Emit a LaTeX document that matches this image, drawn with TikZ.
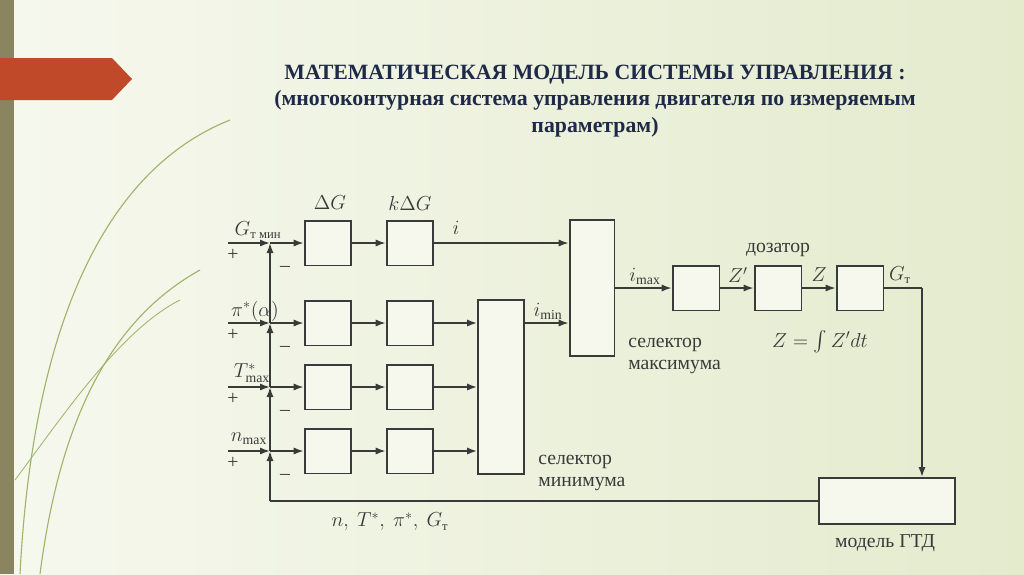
\documentclass[tikz,border=0pt]{standalone}
\usepackage{amsmath}
\usepackage{fontspec}
\setmainfont{Liberation Serif}
\usetikzlibrary{arrows.meta,positioning}
\definecolor{bgA}{HTML}{F6F8EE}
\definecolor{bgB}{HTML}{E4EBCD}
\definecolor{ink}{HTML}{3A3A3A}
\definecolor{titleblue}{HTML}{1F2A48}
\definecolor{tabred}{HTML}{C0492A}
\definecolor{barbrown}{HTML}{8A8460}
\definecolor{leaf}{HTML}{9FB46A}
\newcommand{\cyrsub}[1]{\mbox{\upshape\fontsize{9}{9}\selectfont #1}}
\tikzset{
  blk/.style={draw=ink,line width=1.3pt,fill=bgA,minimum width=1.17cm,minimum height=1.12cm,inner sep=0pt},
  sig/.style={draw=ink,line width=1.2pt,-{Latex[length=2.5mm,width=1.8mm]}},
  ln/.style={draw=ink,line width=1.2pt},
  lbl/.style={font=\itshape\fontsize{14}{14}\selectfont,text=ink,inner sep=1pt},
  txt/.style={font=\fontsize{14}{16}\selectfont,text=ink,align=left,inner sep=0pt}
}
\begin{document}
\begin{tikzpicture}[x=0.025cm,y=-0.025cm]
\useasboundingbox (0,0) rectangle (1024,574);
% background
\shade[left color=bgA,right color=bgB] (0,0) rectangle (1024,574);
\fill[barbrown] (0,0) rectangle (14,574);
\fill[tabred] (0,58) -- (112,58) -- (132,79) -- (112,100) -- (0,100) -- cycle;
\draw[leaf,line width=0.8pt] (20,574) .. controls (30,380) and (80,180) .. (230,120);
\draw[leaf,line width=0.8pt] (40,574) .. controls (60,420) and (110,320) .. (200,270);
\draw[leaf,line width=0.6pt] (15,480) .. controls (60,420) and (120,330) .. (180,300);
% title
\node[font=\bfseries\fontsize{15.5}{19}\selectfont,text=titleblue,align=center] (title) at (595,101)
  {МАТЕМАТИЧЕСКАЯ МОДЕЛЬ СИСТЕМЫ УПРАВЛЕНИЯ :\\
   (многоконтурная система управления двигателя по измеряемым\\ параметрам)};

% blocks
\node[blk] (a1) at (328,243) {};
\node[blk] (b1) at (410,243) {};
\node[blk] (a2) at (328,323) {};
\node[blk] (b2) at (410,323) {};
\node[blk] (a3) at (328,387) {};
\node[blk] (b3) at (410,387) {};
\node[blk] (a4) at (328,451) {};
\node[blk] (b4) at (410,451) {};
\node[blk,minimum width=1.15cm,minimum height=4.35cm] (smin) at (501,387) {};
\node[blk,minimum width=1.12cm,minimum height=3.4cm] (smax) at (592,288) {};
\node[blk] (c1) at (696,288) {};
\node[blk] (c2) at (778,288) {};
\node[blk] (c3) at (860,288) {};
\node[blk,minimum width=3.4cm,minimum height=1.15cm] (gtd) at (887,501) {};

% junctions
\coordinate (j1) at (270,243);
\coordinate (j2) at (270,323);
\coordinate (j3) at (270,387);
\coordinate (j4) at (270,451);
\coordinate (fb) at (270,501);
\coordinate (go) at (922,288);

% inputs
\foreach \r in {1,2,3,4}{
  \draw[sig] (228,0 |- j\r) -- (j\r);
  \draw[sig] (j\r) -- (a\r);
  \draw[sig] (a\r) -- (b\r);
}
\draw[sig] (b1) -- (smax.west |- b1);
\draw[sig] (b2) -- (smin.west |- b2);
\draw[sig] (b3) -- (smin.west |- b3);
\draw[sig] (b4) -- (smin.west |- b4);
\draw[sig] (smin.east |- b2) -- (smax.west |- b2);
\draw[sig] (smax) -- (c1);
\draw[sig] (c1) -- (c2);
\draw[sig] (c2) -- (c3);
\draw[ln] (c3) -- (go);
\draw[sig] (go) -- (go |- gtd.north);
% feedback
\draw[ln] (gtd.west) -- (fb);
\draw[sig] (fb) -- (j4);
\draw[sig] (j4) -- (j3);
\draw[sig] (j3) -- (j2);
\draw[sig] (j2) -- (j1);

% labels
\node[lbl] (lg1) at (258,230) {$G_{\cyrsub{т мин}}$};
\node[lbl] (lg2) at (255,311) {$\pi^*(\alpha)$};
\node[lbl] (lg3) at (252,373) {$T^*_{\max}$};
\node[lbl] (lg4) at (249,439) {$n_{\max}$};
\foreach \r in {1,2,3,4}{
  \node[txt] (pl\r) at (233,0 |- j\r) [yshift=-0.3cm] {+};
  \node[txt] (mi\r) at (285,0 |- j\r) [yshift=-0.65cm] {--};
}
\node[lbl] (dg) at (330,203) {$\Delta G$};
\node[lbl] (kdg) at (410,203) {$k\Delta G$};
\node[lbl] (li) at (456,228) {$i$};
\node[lbl] (limin) at (548,311) {$i_{\min}$};
\node[lbl] (limax) at (645,276) {$i_{\max}$};
\node[lbl] (lz1) at (738,275) {$Z'$};
\node[lbl] (lz) at (819,275) {$Z$};
\node[lbl] (lgt) at (900,275) {$G_{\cyrsub{т}}$};
\node[txt] (doz) at (778,250) {дозатор};
\node[lbl] (intg) at (820,342) {$Z=\int Z'dt$};
\node[txt,anchor=west] (smaxt) at (628,356) {селектор\\максимума};
\node[txt,anchor=west] (smint) at (538,473) {селектор\\минимума};
\node[txt] (gtdt) at (885,543) {модель ГТД};
\node[lbl] (fbl) at (390,522) {$n,\ T^*,\ \pi^*,\ G_{\cyrsub{т}}$};
\end{tikzpicture}
\end{document}
